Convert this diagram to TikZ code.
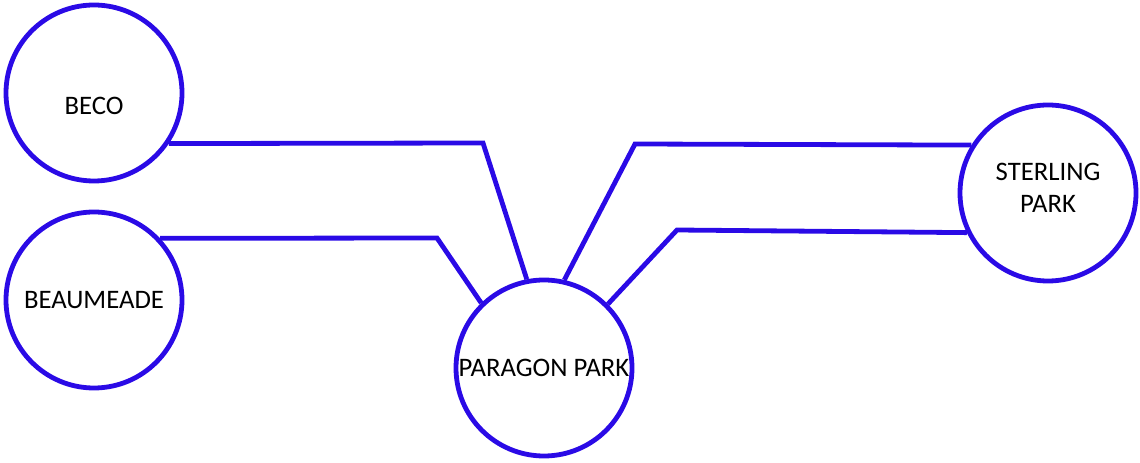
\documentclass[tikz,border=0pt]{standalone}
\usepackage{fontspec}
\setmainfont{Carlito}
\usepackage{xcolor}
\usepackage{tikz}
\definecolor{SiteBlue}{HTML}{2A0AE6}

\begin{document}
\begin{tikzpicture}[x=1cm,y=1cm,
  site/.style={circle,draw=SiteBlue,line width=0.12cm,minimum size=4.4cm,inner sep=0pt,
    align=center,font=\fontsize{19}{22.8}\selectfont},
  feed/.style={draw=SiteBlue,line width=0.12cm}]
\path[use as bounding box] (0,0) rectangle (28.50,11.55);
\node[site,text height=1.1cm,text depth=0pt] (beco) at (2.35,9.225) {BECO};
\node[site] (beaumeade) at (2.35,4.05) {BEAUMEADE};
\node[site] (paragon) at (13.60,2.35) {PARAGON PARK};
\node[site] (sterling) at (26.20,6.725) {STERLING\\PARK\\[-0.55cm]};
\coordinate (becoKnee) at (12.075,7.975);
\coordinate (beauKnee) at (10.925,5.60);
\coordinate (sterKneeA) at (15.875,7.95);
\coordinate (sterKneeB) at (16.925,5.80);
\draw[feed] (beco.-34) -- (becoKnee) -- (paragon.101);
\draw[feed] (beaumeade.43) -- (beauKnee) -- (paragon.134);
\draw[feed] (paragon.77) -- (sterKneeA) -- (sterling.148);
\draw[feed] (paragon.45) -- (sterKneeB) -- (sterling.206);
\end{tikzpicture}
\end{document}
